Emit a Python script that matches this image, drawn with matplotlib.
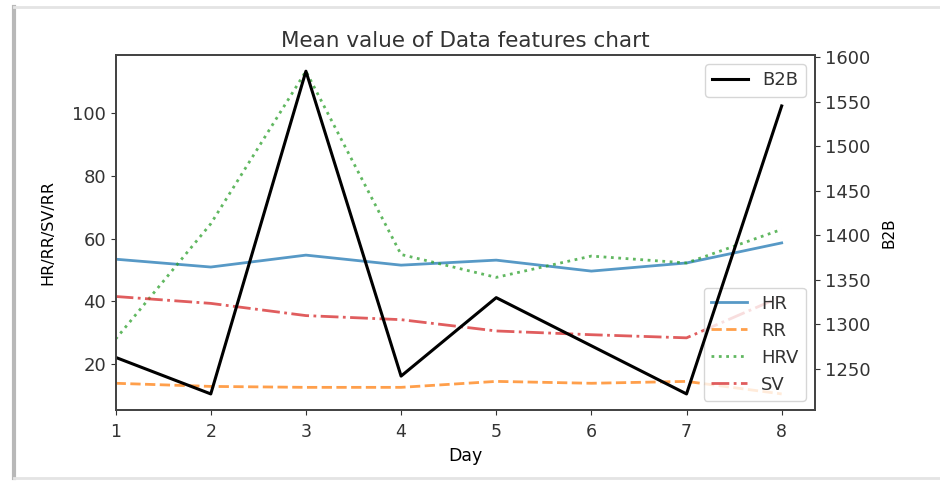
import matplotlib.pyplot as plt
from matplotlib.lines import Line2D

days = [1, 2, 3, 4, 5, 6, 7, 8]
hr = [53.5, 51.0, 54.8, 51.6, 53.2, 49.7, 52.3, 58.7]
rr = [13.9, 12.9, 12.6, 12.6, 14.5, 13.9, 14.5, 10.5]
hrv = [28.0, 64.8, 113.5, 55.0, 47.7, 54.5, 52.3, 63.0]
sv = [41.6, 39.4, 35.5, 34.2, 30.6, 29.4, 28.4, 41.6]
b2b = [1263, 1222, 1584, 1242, 1330, 1276, 1222, 1545]

plt.rcParams["font.size"] = 12.5
plt.rcParams["text.color"] = "#333333"
plt.rcParams["xtick.color"] = "#333333"
plt.rcParams["ytick.color"] = "#333333"

fig = plt.figure(figsize=(9.4, 4.83), dpi=100)
ax = fig.add_axes([0.123, 0.151, 0.744, 0.735])

ax.plot(days, hr, "-", color="tab:blue", alpha=0.75, lw=2, label="HR")
ax.plot(days, rr, "--", color="tab:orange", alpha=0.75, lw=2, label="RR")
ax.plot(days, hrv, ":", color="tab:green", alpha=0.75, lw=2, label="HRV")
ax.plot(days, sv, "-.", color="tab:red", alpha=0.75, lw=2, label="SV")
ax.set_xlim(left=1)
ax.set_xlabel("Day", fontsize=12.5)
ax.set_ylabel("HR/RR/SV/RR", fontsize=11.5, labelpad=12)
ax.set_title("Mean value of Data features chart", fontsize=15.5)
ax.set_xticks(days)
ax.tick_params(axis="x", pad=6)
ax.tick_params(axis="y", labelsize=13)
ax.legend(loc="lower right", fontsize=13)

ax2 = ax.twinx()
ax2.plot(days, b2b, "-", color="black", lw=2.2, label="B2B")
ax2.set_ylabel("B2B", fontsize=11, labelpad=8)
ax2.tick_params(axis="y", labelsize=13)
ax2.legend(loc="upper right", fontsize=13)

for a in (ax, ax2):
    for s in a.spines.values():
        s.set_linewidth(1.3)
        s.set_color("#444444")

# screenshot frame
fig.add_artist(Line2D([0.015, 0.015], [0.01, 0.985], transform=fig.transFigure,
                      color="#b8b8b8", lw=3))
fig.add_artist(Line2D([0.015, 1.0], [0.985, 0.985], transform=fig.transFigure,
                      color="#e4e4e4", lw=2))
fig.add_artist(Line2D([0.015, 1.0], [0.01, 0.01], transform=fig.transFigure,
                      color="#e4e4e4", lw=2))

fig.savefig("out.png", dpi=100)
